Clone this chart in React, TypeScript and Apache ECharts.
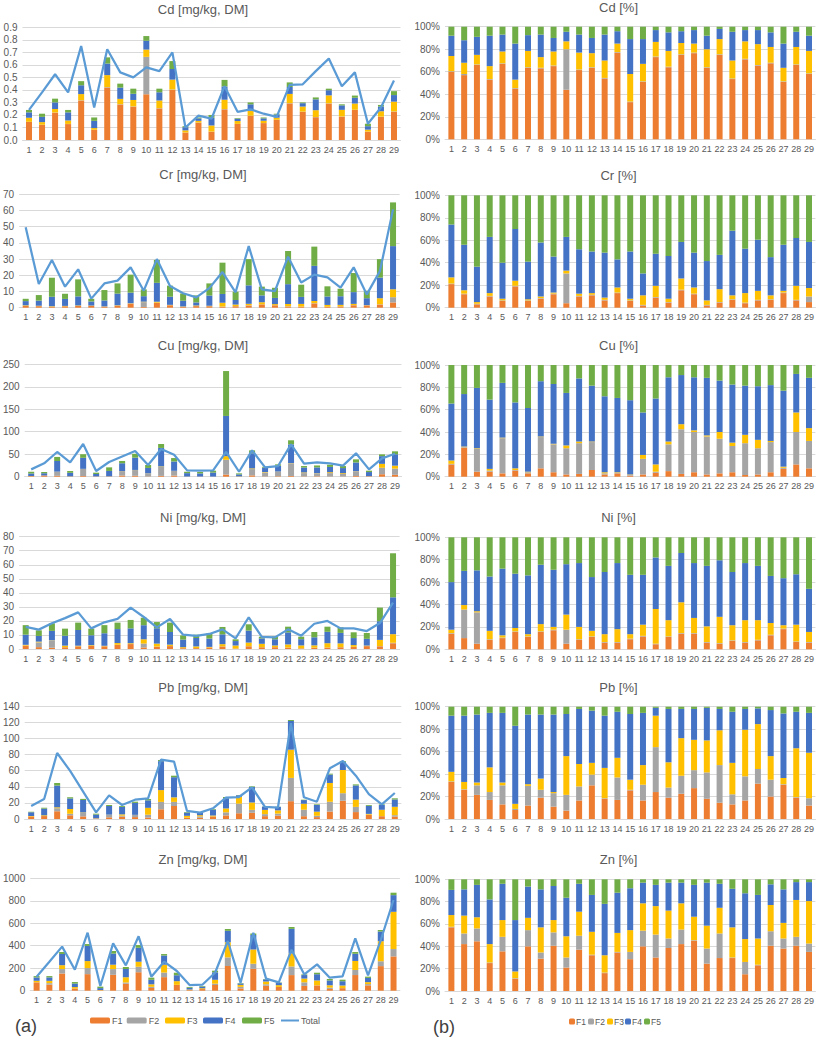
import React, { useEffect, useRef } from 'react';
import * as echarts from 'echarts';

const categories = ['1','2','3','4','5','6','7','8','9','10','11','12','13','14','15','16','17','18','19','20','21','22','23','24','25','26','27','28','29'];

// ---- Cd ----
const cdBar = [0.24,0.21,0.33,0.24,0.47,0.18,0.66,0.45,0.41,0.83,0.41,0.63,0.11,0.18,0.20,0.48,0.175,0.30,0.18,0.21,0.46,0.30,0.34,0.41,0.285,0.355,0.13,0.28,0.39];
const cdTotal = [0.24,0.38,0.525,0.38,0.75,0.26,0.725,0.54,0.50,0.58,0.55,0.70,0.10,0.195,0.17,0.43,0.225,0.245,0.21,0.185,0.44,0.445,0.55,0.65,0.43,0.54,0.13,0.26,0.475];
const cdF1 = [60,57,66,53,67,45,63.5,63,65,44,61.5,63.5,54,77,33,51,73,64,75,76.5,63.5,75,53.5,71,65.5,67.5,51,66,58];
const cdF2 = [0.5,1,0.5,0.5,0.5,0.5,0.5,0.5,0.5,36,0.5,0.5,0.5,0.5,0.5,0.5,0.5,0.5,0.5,0.5,0.5,0.5,0.5,0.5,0.5,0.5,0.5,0.5,0.5];
const cdF3 = [13.5,10,8.5,11.5,10.5,7.5,14.5,9.5,12.5,7,15,12.5,15.5,7.5,24.5,15.5,13,14,10,8,16,13.5,16,15.5,18.5,14,12,15.5,20];
const cdF4 = [18,20,16,27,15,32,14,20,12,8.5,16,13.5,23,11,31,22,10.5,16.5,10.5,12,12,9,25.5,10,12.5,13,21.5,13.5,13.5];
const cdF5 = [8,12,9,8,7,15,7.5,7,10,4.5,7,10,7,4,11,11,3,5,4,3,8,2,4.5,3,3,5,15,4.5,8];

// ---- Cr ----
const crBar = [5.5,7.8,18.5,8.6,17.5,5.5,10.9,15,20.4,11.3,29.5,13.6,8.8,7.6,15,27.8,9.9,30,13,12.3,35,14.2,37.7,13.2,11.7,21.4,10.5,30,65];
const crTotal = [49.6,14.6,29.4,13,23.7,5.6,15,16.7,24.9,10.5,30,13.4,8.9,6.4,12.1,22,9.5,38,11.3,10.3,31.5,15.6,20.4,18.7,12.4,24.9,8.2,22.6,60.7];
const crF1 = [21,12,3,10,6,19,6,8,12,4,10,11,6.5,13,6,2,9,4.5,15.5,12,2,4.5,7,4,6.5,7,13,6.5,5];
const crF2 = [0.5,0.5,0.5,0.5,0.5,0.5,0.5,0.5,0.5,26.5,0.5,0.5,0.5,0.5,0.5,0.5,0.5,0.5,0.5,0.5,0.5,0.5,0.5,0.5,0.5,0.5,0.5,0.5,5];
const crF3 = [5.5,3,1.5,2.5,1.5,4.5,1,1.5,1,2.5,2,1.5,2,4.5,1.5,8.5,10,3,10,5.5,4,11.5,3.5,8.5,8,3.5,1.5,12.5,7.5];
const crF4 = [47,40.5,31.5,50,32,46,33.5,48,32,30,39.5,37,40,25,42,19.5,28.5,38,32.5,31,35,30.5,57.5,39.5,45.5,34,41,42.5,41];
const crF5 = [26,44,63.5,37,60,30,59,42,54.5,37,48,50,51,57,50,69.5,52,54,41.5,51,58.5,53,31.5,47.5,39.5,55,44,38,41.5];

// ---- Cu ----
const cuBar = [11,10.4,44,12.6,50,9,20.8,35,51,26,72.7,41.5,11,10.4,13.4,235,7.4,58.6,22,27.5,81,23.7,25,26.7,23.7,38.6,13.4,49.7,56.4];
const cuTotal = [16.3,29.7,55,32,72.7,12.6,32.6,45,57,26,61.6,49,14,13.4,14,55,11,58.6,20.8,23.7,72,29,32,29.7,24.5,52,16.3,40.8,51];
const cuF1 = [11,26,4.5,4.5,3,5.5,3,7.5,4,2,2.5,6,2,3,1,2,3.5,5,2.5,4,2,3,4,1.5,2,4,7,11,7.5];
const cuF2 = [0.5,0.5,20.5,1,31.5,0.5,1,28,25,23.5,27.5,25,1,0.5,0.5,14,1,24,40,36,34,31,23.5,28.5,23.5,27,1,29,24.5];
const cuF3 = [3,0.5,0.5,1.5,0.5,1.5,0.5,0.5,0.5,2.5,1.5,0.5,1,0.5,0.5,3.5,6.5,2.5,4.5,1.5,1,6,3,7.5,7.5,1,1,17.5,11.5];
const cuF4 = [51,47,54,62,49,59,57,49.5,53.5,47,56.5,50,68,66.5,66.5,38,59,57.5,44,47.5,51.5,46,52,44,48,50,68,34.5,45];
const cuF5 = [34.5,26,20.5,31,16,33.5,38.5,14.5,17,25,12,18.5,28,29.5,31.5,42.5,30,11,9,11,11.5,14,17.5,18.5,19,18,23,8,11.5];

// ---- Ni ----
const niBar = [17,13.3,18.3,14.5,18.8,14.5,17,18.8,20.7,22.3,19.2,18.8,9.7,10.2,11.2,15.7,6.9,17.6,8.8,9,15.9,8.8,12.1,15.9,15.4,11.9,11.4,29.5,68.2];
const niTotal = [15.7,13.8,18.3,22,26.1,14.7,19,21.4,29.5,22.8,15.4,21.4,10.2,9.3,10.7,14,7.6,22.6,8.6,8.3,14,9.5,18,20,14.7,14.7,12.8,18.5,33];
const niF1 = [14,10,5,8.5,10,15.5,11,15.5,17,5,8.5,11,6,6,9,11.5,4.5,11,14,14,6,5,7.5,6,8,12.5,18,6.5,6];
const niF2 = [0.5,25.5,28,0.5,0.5,0.5,0.5,0.5,0.5,12.5,0.5,0.5,0.5,0.5,0.5,0.5,0.5,0.5,0.5,0.5,0.5,0.5,0.5,0.5,0.5,0.5,0.5,0.5,0.5];
const niF3 = [3,4,1,7.5,2,3,2,6.5,2.5,13.5,11,5,7,11.5,4,10,31,14.5,27.5,13.5,14,23.5,13.5,19.5,17.5,10.5,3,15,9];
const niF4 = [42.5,30.5,36.5,48.5,59.5,48.5,52.5,53,51,45,57,48,55.5,59,53,44.5,46,48.5,44,49,54,50.5,47.5,51,48.5,42,42,45,38.5];
const niF5 = [40,30,29.5,35,28,32.5,34,24.5,29,24,23,35.5,31,23,33.5,33.5,18,25.5,14,23,25.5,20.5,31,23,25.5,34.5,36.5,33,46];

// ---- Pb ----
const pbBar = [9.1,14,44.7,27,25,6.6,17.4,16,21.5,24.8,73.3,53.8,8.7,8.7,12.4,27.3,29.8,40.6,15.7,15.3,123,24,18.2,56.3,72,43,17.4,18.2,25.7];
const pbTotal = [16.2,24.8,82,59.7,34,8.3,29.4,17.4,24,25.7,73.7,71.3,10,7.9,13.3,26.5,27.3,39.4,15,14,119,27,21.5,63,72,53.8,31,18.2,32.3];
const pbF1 = [33,26,21.5,17,13,8,12,19,11,7.5,16.5,30,18,17,25.5,16.5,24,19,22.5,27.5,18,14.5,13,16.5,31.5,20,30.5,19,12];
const pbF2 = [0.5,0.5,8.5,7,17,1,17.5,7,12,14,12.5,9.5,0.5,20,0.5,14,40,9,16,16,23.5,33.5,9,21.5,13,15,0.5,0.5,6.5];
const pbF3 = [8.5,6.5,2.5,22,2.5,4.5,1.5,10,1,34.5,20,10.5,27,17.5,9,17.5,28,22.5,33.5,27,28.5,31,28,41.5,40,21,5.5,43.5,40.5];
const pbF4 = [50,59,60.5,48.5,62,69.5,62,57,69,37.5,49,46.5,46.5,41,58.5,46.5,7,47.5,26,27.5,29,19,45.5,18.5,14,41,57.5,32.5,35.5];
const pbF5 = [8,8,7,5.5,5.5,17,7,7,7,6.5,2,3.5,8,4.5,6.5,5.5,1,2,2,2,1,2,4.5,2,1.5,3,6,4.5,5.5];

// ---- Zn ----
const znBar = [130,130,344,77,415,36,353,211,406,116,326,160,33,42,178,549,68,510,104,74,567,145,160,104,98,344,125,540,872];
const znTotal = [125,258,392,187,516,42,421,225,484,125,258,175,50,53,160,442,71,516,107,74,365,145,234,116,128,466,136,451,807];
const znF1 = [57,42,44.5,25,35.5,11,40,29,40.5,21,37,32,16,34.5,28.5,40,30,38.5,42,45,24.5,29.5,29.5,15,23,40.5,38,40.5,35];
const znF2 = [0.5,9.5,11.5,0.5,13,0.5,14.5,5.5,12,9,12.5,0.5,0.5,0.5,6.5,14,20.5,8.5,13,0.5,13.5,22,0.5,11,0.5,13,9,8,7.5];
const znF3 = [10.5,16,10,16.5,15,6,11,22.5,11,19,21.5,20.5,15.5,17,19.5,24.5,25.5,25,23.5,21,20.5,23,27,20.5,23.5,23.5,14,33,38];
const znF4 = [22.5,23.5,29,40,32.5,46,28,34,30.5,34.5,25,33,46,36,37.5,18.5,19,25,18.5,28.5,38.5,21.5,34.5,41,39,18.5,30,16,17];
const znF5 = [9.5,9,5,18,4,36.5,6.5,9,6,16.5,4,14,22,12,8,3,5,3,3,5,3,4,8.5,12.5,14,4.5,9,2.5,2.5];

const fractionNames = ['F1', 'F2', 'F3', 'F4', 'F5'];
const fractionColors = ['#ED7D31', '#A5A5A5', '#FFC000', '#4472C4', '#70AD47'];
const totalColor = '#5B9BD5';

const metals = [
  { name: 'Cd', bar: cdBar, total: cdTotal, pct: [cdF1, cdF2, cdF3, cdF4, cdF5], max: 0.9, interval: 0.1, dec: 1 },
  { name: 'Cr', bar: crBar, total: crTotal, pct: [crF1, crF2, crF3, crF4, crF5], max: 70, interval: 10, dec: 0 },
  { name: 'Cu', bar: cuBar, total: cuTotal, pct: [cuF1, cuF2, cuF3, cuF4, cuF5], max: 250, interval: 50, dec: 0 },
  { name: 'Ni', bar: niBar, total: niTotal, pct: [niF1, niF2, niF3, niF4, niF5], max: 80, interval: 10, dec: 0 },
  { name: 'Pb', bar: pbBar, total: pbTotal, pct: [pbF1, pbF2, pbF3, pbF4, pbF5], max: 140, interval: 20, dec: 0 },
  { name: 'Zn', bar: znBar, total: znTotal, pct: [znF1, znF2, znF3, znF4, znF5], max: 1000, interval: 200, dec: 0 },
];

// layout (pixels)
const leftGrid = [
  { left: 22.5, width: 378, top: 27.3, height: 112.7 },
  { left: 18.4, width: 381.2, top: 194.3, height: 113.4 },
  { left: 22.8, width: 378.7, top: 364.3, height: 112.4 },
  { left: 18.4, width: 381.2, top: 536.7, height: 112.3 },
  { left: 22.8, width: 378.5, top: 706.3, height: 112.7 },
  { left: 26.9, width: 373, top: 878.3, height: 112.4 },
];
const rightGrid = [
  { left: 445, width: 371, top: 26.7, height: 112.6 },
  { left: 445, width: 371, top: 195.3, height: 112.4 },
  { left: 445, width: 371, top: 365, height: 111.7 },
  { left: 445, width: 371, top: 537.3, height: 112 },
  { left: 445, width: 371, top: 706.7, height: 112.3 },
  { left: 445, width: 371, top: 879.3, height: 111.7 },
];
const leftTitleY = [10, 175, 345.7, 517.7, 687.7, 860];
const rightTitleY = [8.3, 176, 345.7, 517.7, 687.7, 860];
const leftLegendX = [90, 126.7, 165, 203, 242, 280];
const rightLegendX = [569, 588, 607, 625, 644];

const FONT = '"Liberation Sans", Arial, sans-serif';
const TXT = '#595959';
const GRIDC = '#D9D9D9';

function buildOption() {
  const grid: any[] = [];
  const xAxis: any[] = [];
  const yAxis: any[] = [];
  const series: any[] = [];
  const title: any[] = [];

  metals.forEach((m, r) => {
    const sums = m.bar.map((_, i) => m.pct.reduce((s, arr) => s + arr[i], 0));
    [0, 1].forEach((side) => {
      const idx = r * 2 + side;
      const g = side === 0 ? leftGrid[r] : rightGrid[r];
      grid.push({ ...g, containLabel: false });
      xAxis.push({
        type: 'category',
        gridIndex: idx,
        data: categories,
        axisTick: { show: false },
        axisLine: { lineStyle: { color: GRIDC, width: 1 } },
        axisLabel: { color: TXT, fontSize: 9, fontFamily: FONT, margin: 5, interval: 0 },
      });
      yAxis.push({
        type: 'value',
        gridIndex: idx,
        min: 0,
        max: side === 0 ? m.max : 100,
        interval: side === 0 ? m.interval : 20,
        axisLine: { show: false },
        axisTick: { show: false },
        splitLine: { lineStyle: { color: GRIDC, width: 1 } },
        axisLabel: {
          color: TXT,
          fontSize: 10,
          fontFamily: FONT,
          margin: 5,
          formatter: side === 0 ? (v: number) => v.toFixed(m.dec) : (v: number) => v + '%',
        },
      });
      fractionNames.forEach((fn, k) => {
        const data = m.bar.map((b, i) => {
          const share = m.pct[k][i] / sums[i];
          return side === 0 ? +(b * share).toFixed(4) : +(share * 100).toFixed(3);
        });
        series.push({
          name: fn,
          type: 'bar',
          xAxisIndex: idx,
          yAxisIndex: idx,
          stack: 's' + idx,
          barWidth: 6,
          itemStyle: { color: fractionColors[k] },
          data,
        });
      });
      if (side === 0) {
        series.push({
          name: 'Total',
          type: 'line',
          xAxisIndex: idx,
          yAxisIndex: idx,
          symbol: 'none',
          z: 5,
          lineStyle: { color: totalColor, width: 2.25 },
          itemStyle: { color: totalColor },
          data: m.total,
        });
      }
    });
    title.push({
      text: m.name + ' [mg/kg, DM]',
      left: 203,
      top: leftTitleY[r] - 7,
      textAlign: 'center',
      padding: 0,
      textStyle: { color: TXT, fontSize: 13, fontWeight: 'normal', fontFamily: FONT },
    });
    title.push({
      text: m.name + ' [%]',
      left: 618.5,
      top: rightTitleY[r] - 7,
      textAlign: 'center',
      padding: 0,
      textStyle: { color: TXT, fontSize: 13, fontWeight: 'normal', fontFamily: FONT },
    });
  });

  const legend: any[] = [];
  ['F1', 'F2', 'F3', 'F4', 'F5', 'Total'].forEach((n, k) => {
    const isTotal = n === 'Total';
    legend.push({
      data: [isTotal ? { name: n, itemStyle: { opacity: 0 } } : n],
      left: leftLegendX[k],
      top: 1016,
      itemWidth: isTotal ? 18 : 20,
      itemHeight: 6,
      padding: 0,
      textStyle: { color: TXT, fontSize: 9, fontFamily: FONT, padding: [0, 0, 0, -3] },
    });
  });
  fractionNames.forEach((n, k) => {
    legend.push({
      data: [n],
      left: rightLegendX[k],
      top: 1017,
      itemWidth: 6,
      itemHeight: 6,
      padding: 0,
      textStyle: { color: TXT, fontSize: 8.5, fontFamily: FONT, padding: [0, 0, 0, -4] },
    });
  });

  return {
    animation: false,
    backgroundColor: '#ffffff',
    title,
    grid,
    xAxis,
    yAxis,
    series,
    legend,
    graphic: [
      { type: 'text', left: 15, top: 1017, style: { text: '(a)', fontSize: 18, fill: '#404040', fontFamily: FONT } },
      { type: 'text', left: 433, top: 1018, style: { text: '(b)', fontSize: 18, fill: '#404040', fontFamily: FONT } },
    ],
  };
}

export default function App() {
  const ref = useRef<HTMLDivElement>(null);
  useEffect(() => {
    if (!ref.current) return;
    const chart = echarts.init(ref.current, null, { renderer: 'svg' });
    chart.setOption(buildOption() as any);
    return () => chart.dispose();
  }, []);
  return (
    <div
      ref={ref}
      style={{ position: 'absolute', left: 0, top: 0, width: 817, height: 1039, background: '#fff' }}
    />
  );
}
